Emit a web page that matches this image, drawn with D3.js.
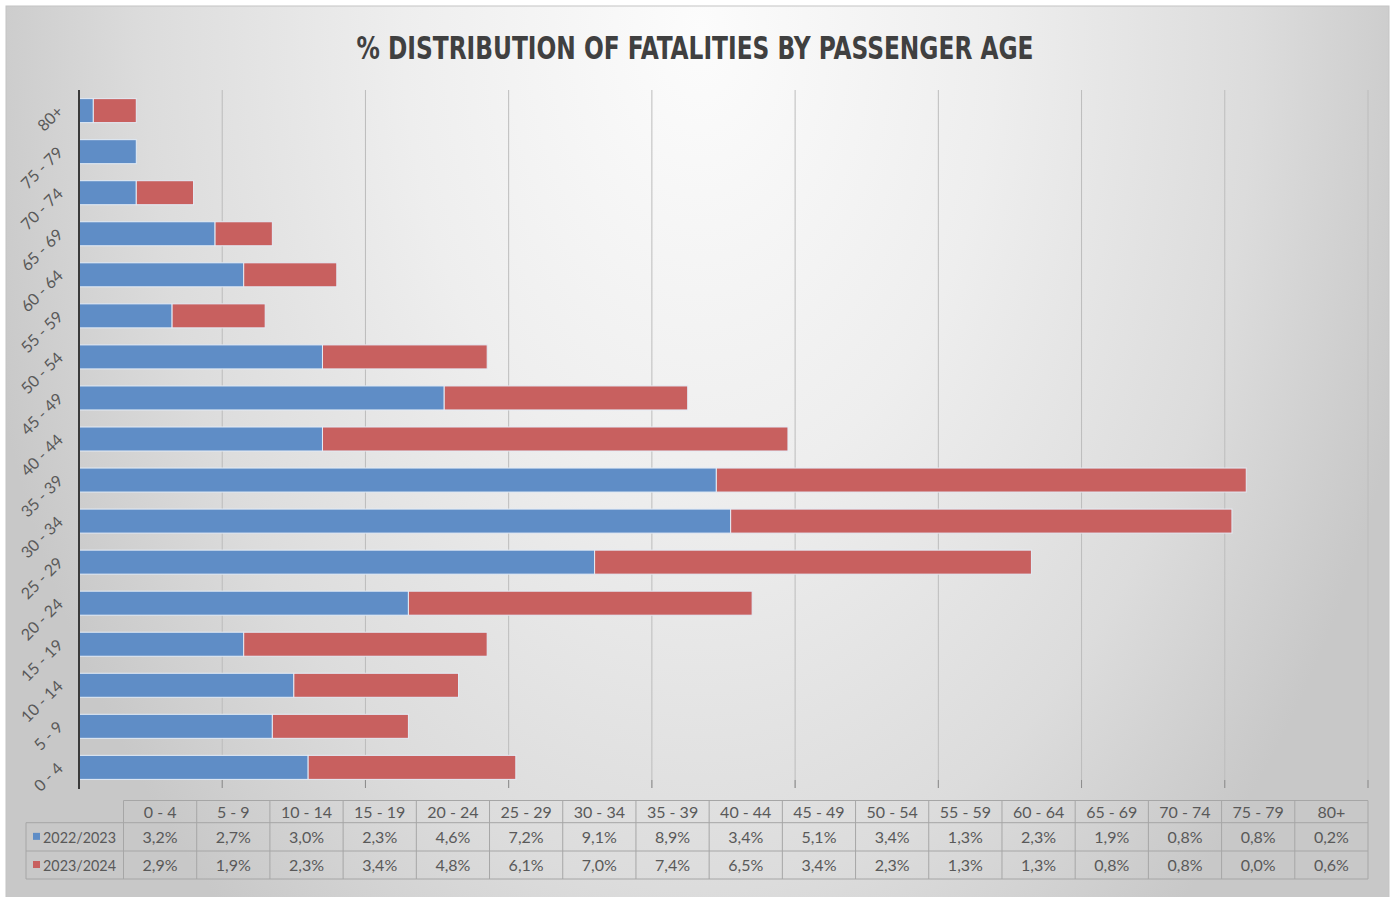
<!DOCTYPE html>
<html>
<head>
<meta charset="utf-8">
<script src="https://cdn.jsdelivr.net/npm/d3@7"></script>
<style>
  html, body { margin: 0; padding: 0; background: #ffffff; }
  svg { display: block; }
</style>
</head>
<body>
<svg id="chart" width="1394" height="897"></svg>
<script>
// ---- DATA ----
const categories = ["0 - 4","5 - 9","10 - 14","15 - 19","20 - 24","25 - 29","30 - 34","35 - 39","40 - 44","45 - 49","50 - 54","55 - 59","60 - 64","65 - 69","70 - 74","75 - 79","80+"];
const seriesNames = ["2022/2023","2023/2024"];
const values2022 = [3.2,2.7,3.0,2.3,4.6,7.2,9.1,8.9,3.4,5.1,3.4,1.3,2.3,1.9,0.8,0.8,0.2];
const values2023 = [2.9,1.9,2.3,3.4,4.8,6.1,7.0,7.4,6.5,3.4,2.3,1.3,1.3,0.8,0.8,0.0,0.6];
const xTicks = [0,2,4,6,8,10,12,14,16,18];
const title = "% DISTRIBUTION OF FATALITIES BY PASSENGER AGE";
const colors = ["#5f8dc6", "#c8605f"];

// ---- LAYOUT ----
const svg = d3.select("#chart");
const plot = {left: 79, right: 1368, top: 90, bottom: 788};

const defs = svg.append("defs");
const grad = defs.append("radialGradient")
  .attr("id", "bg")
  .attr("gradientUnits", "userSpaceOnUse")
  .attr("cx", 0).attr("cy", 0).attr("r", 740)
  .attr("gradientTransform", "translate(700,30) scale(1,1.55)");
grad.append("stop").attr("offset", 0).attr("stop-color", "#fcfcfc");
grad.append("stop").attr("offset", 0.4).attr("stop-color", "#eeeeee");
grad.append("stop").attr("offset", 0.75).attr("stop-color", "#dcdcdc");
grad.append("stop").attr("offset", 1).attr("stop-color", "#c8c8c8");

svg.append("rect").attr("x", 6).attr("y", 6).attr("width", 1383).attr("height", 895)
  .attr("fill", "url(#bg)").attr("stroke", "#c4c4c4").attr("stroke-width", 1);

// title
svg.append("text")
  .attr("x", 695).attr("y", 59)
  .attr("text-anchor", "middle")
  .attr("font-family", "'Liberation Sans Narrow', 'DejaVu Sans Condensed', sans-serif")
  .attr("font-weight", "bold")
  .attr("font-size", 32)
  .attr("fill", "#404040")
  .attr("textLength", 677)
  .attr("lengthAdjust", "spacingAndGlyphs")
  .text(title);

// scales
const x = d3.scaleLinear().domain([0, 18]).range([plot.left, plot.right]);
const y = d3.scaleBand().domain(categories.slice().reverse())
  .range([plot.top, plot.bottom]).paddingInner(0.415).paddingOuter(0.21);

// gridlines
svg.append("g").selectAll("line").data(xTicks.slice(1)).join("line")
  .attr("x1", d => x(d)).attr("x2", d => x(d))
  .attr("y1", plot.top).attr("y2", plot.bottom)
  .attr("stroke", "#bcbcbc").attr("stroke-width", 1);
// tick marks
svg.append("g").selectAll("line").data(xTicks.slice(1)).join("line")
  .attr("x1", d => x(d)).attr("x2", d => x(d))
  .attr("y1", plot.bottom - 8).attr("y2", plot.bottom)
  .attr("stroke", "#8c8c8c").attr("stroke-width", 1);

// stacked bars
const rows = categories.map((c, i) => ({cat: c, a: values2022[i], b: values2023[i]}));
const stack = d3.stack().keys(["a", "b"])(rows);
svg.append("g").selectAll("g").data(stack).join("g")
  .attr("fill", (d, i) => colors[i])
  .selectAll("rect").data(d => d).join("rect")
  .attr("x", d => x(d[0]))
  .attr("width", d => Math.max(0, x(d[1]) - x(d[0])))
  .attr("y", d => y(d.data.cat))
  .attr("height", y.bandwidth())
  .attr("stroke", "#e4ecf6")
  .attr("stroke-width", d => (d[1] - d[0]) > 0 ? 1 : 0);

// category axis line
svg.append("line")
  .attr("x1", plot.left).attr("x2", plot.left)
  .attr("y1", plot.top).attr("y2", plot.bottom + 1)
  .attr("stroke", "#3a3a3a").attr("stroke-width", 2);

// category labels, rotated
svg.append("g").selectAll("text").data(categories).join("text")
  .attr("transform", d => `translate(60, ${y(d) + y.bandwidth() / 2 - 2}) rotate(-45)`)
  .attr("text-anchor", "end")
  .attr("dy", "0.35em")
  .attr("font-family", "Lato, 'Open Sans', sans-serif")
  .attr("font-size", 16)
  .attr("fill", "#595959")
  .text(d => d);

// ---- DATA TABLE ----
const tbl = {left: 123.5, right: 1368, labelLeft: 26, rows: [800.5, 822.7, 851, 879]};
const colW = (tbl.right - tbl.left) / categories.length;
const tg = svg.append("g");
const lineColor = "#a6a6a6";
tg.append("line").attr("x1", tbl.left).attr("x2", tbl.right)
  .attr("y1", tbl.rows[0]).attr("y2", tbl.rows[0]).attr("stroke", lineColor);
[1, 2, 3].forEach(r => {
  tg.append("line").attr("x1", tbl.labelLeft).attr("x2", tbl.right)
    .attr("y1", tbl.rows[r]).attr("y2", tbl.rows[r]).attr("stroke", lineColor);
});
d3.range(categories.length + 1).forEach(i => {
  tg.append("line").attr("x1", tbl.left + i * colW).attr("x2", tbl.left + i * colW)
    .attr("y1", tbl.rows[0]).attr("y2", tbl.rows[3]).attr("stroke", lineColor);
});
tg.append("line").attr("x1", tbl.labelLeft).attr("x2", tbl.labelLeft)
  .attr("y1", tbl.rows[1]).attr("y2", tbl.rows[3]).attr("stroke", lineColor);

const fmt = v => v.toFixed(1).replace(".", ",") + "%";
const textStyle = sel => sel.attr("font-family", "Lato, 'Open Sans', sans-serif")
  .attr("font-size", 16).attr("fill", "#595959").attr("text-anchor", "middle");

tg.append("g").selectAll("text").data(categories).join("text")
  .attr("x", (d, i) => tbl.left + (i + 0.5) * colW)
  .attr("y", (tbl.rows[0] + tbl.rows[1]) / 2 + 6)
  .call(textStyle).text(d => d);

[values2022, values2023].forEach((vals, r) => {
  const cy = (tbl.rows[r + 1] + tbl.rows[r + 2]) / 2 + 6;
  tg.append("g").selectAll("text").data(vals).join("text")
    .attr("x", (d, i) => tbl.left + (i + 0.5) * colW)
    .attr("y", cy)
    .call(textStyle).text(d => fmt(d));
  tg.append("rect").attr("x", 33).attr("y", cy - 10).attr("width", 7).attr("height", 7)
    .attr("fill", colors[r]);
  tg.append("text").attr("x", 43).attr("y", cy)
    .attr("font-family", "Lato, 'Open Sans', sans-serif")
    .attr("font-size", 16).attr("fill", "#595959")
    .attr("textLength", 73).attr("lengthAdjust", "spacingAndGlyphs")
    .text(seriesNames[r]);
});
</script>
</body>
</html>
